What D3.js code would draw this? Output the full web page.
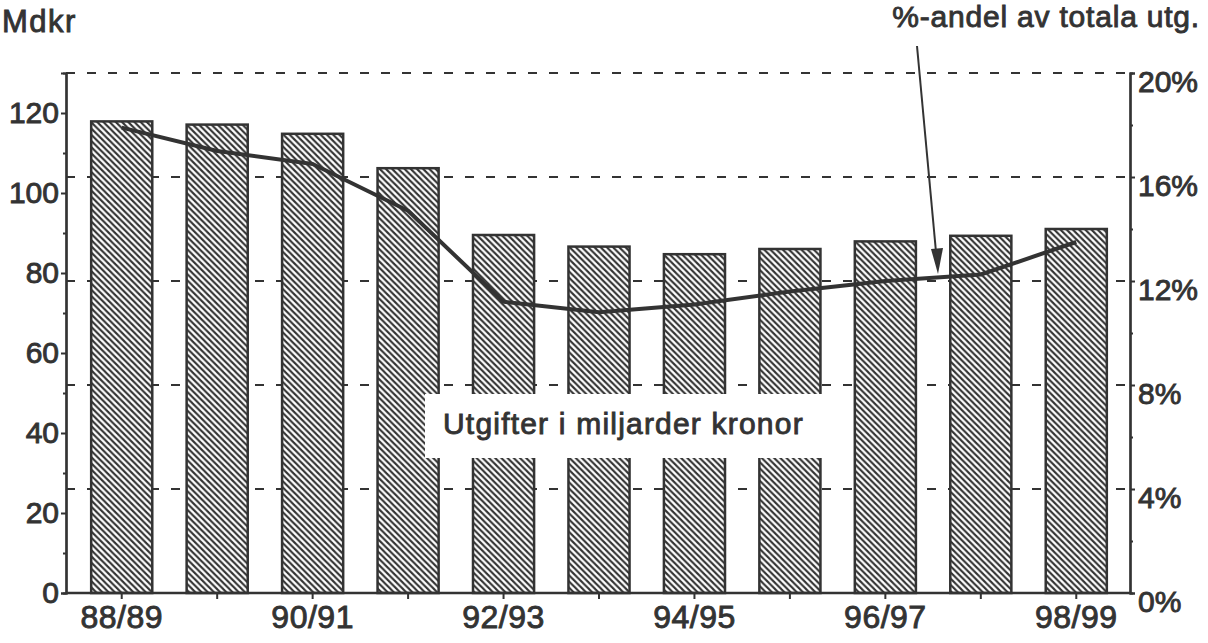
<!DOCTYPE html>
<html>
<head>
<meta charset="utf-8">
<script src="https://cdn.jsdelivr.net/npm/d3@7"></script>
<style>
  html, body { margin: 0; padding: 0; background: #fff; }
  svg { display: block; }
  text { font-family: "Liberation Sans", Arial, Helvetica, sans-serif; fill: #333; }
</style>
</head>
<body>
<svg id="chart" width="1208" height="643"></svg>
<script>
// ---- Data ----
const categories = ["88/89","89/90","90/91","91/92","92/93","93/94","94/95","95/96","96/97","97/98","98/99"];
const spending = [117.9, 117.1, 114.8, 106.2, 89.5, 86.6, 84.7, 86.0, 87.9, 89.3, 91.0]; // Mdkr
const sharePct = [17.9, 17.0, 16.5, 14.7, 11.2, 10.8, 11.1, 11.6, 12.0, 12.25, 13.5]; // % of total
const xLabelCats = ["88/89","90/91","92/93","94/95","96/97","98/99"];
const leftMajorTicks = [0, 20, 40, 60, 80, 100, 120];
const leftMinorTicks = [10, 30, 50, 70, 90, 110];
const rightMajorTicks = [0, 4, 8, 12, 16, 20];
const rightMinorTicks = [2, 6, 10, 14, 18];
const gridPct = [4, 8, 12, 16, 20];

const ink = "#333";
const svg = d3.select("#chart");

const axisLeftX = 66, axisRightX = 1130, yBottom = 593, yTop = 73;

const x = d3.scaleBand().domain(categories).range([74, 1124]).paddingInner(0.36).paddingOuter(0.18);
const yL = d3.scaleLinear().domain([0, 130]).range([yBottom, yTop]);
const yR = d3.scaleLinear().domain([0, 20]).range([yBottom, yTop]);

// hatch pattern
const defs = svg.append("defs");
const P = 6.2;
const pat = defs.append("pattern").attr("id", "hatch").attr("patternUnits", "userSpaceOnUse")
  .attr("width", P).attr("height", P);
pat.append("rect").attr("width", P).attr("height", P).attr("fill", "#fff");
pat.append("path").attr("d", `M0,0 L${P},${P} M-1,${P-1} L1,${P+1} M${P-1},-1 L${P+1},1`)
  .attr("stroke", ink).attr("stroke-width", 2.1);

// gridlines (dashed)
svg.append("g").selectAll("line").data(gridPct).join("line")
  .attr("x1", axisLeftX).attr("x2", axisRightX)
  .attr("y1", d => yR(d)).attr("y2", d => yR(d))
  .attr("stroke", ink).attr("stroke-width", 2).attr("stroke-dasharray", "9,12");

// bars
svg.append("g").selectAll("rect").data(categories).join("rect")
  .attr("x", d => x(d)).attr("width", x.bandwidth())
  .attr("y", (d, i) => yL(spending[i])).attr("height", (d, i) => yL(0) - yL(spending[i]))
  .attr("fill", "url(#hatch)").attr("stroke", ink).attr("stroke-width", 2.5);

// share line
const line = d3.line()
  .x((d, i) => x(categories[i]) + x.bandwidth() / 2)
  .y(d => yR(d))
  .curve(d3.curveLinear);
svg.append("path").datum(sharePct).attr("d", line)
  .attr("fill", "none").attr("stroke", ink).attr("stroke-width", 4).attr("stroke-linejoin", "round");

// legend box
svg.append("rect").attr("x", 425).attr("y", 394).attr("width", 410).attr("height", 64).attr("fill", "#fff");
svg.append("text").attr("x", 443).attr("y", 434).attr("font-size", 30)
  .attr("letter-spacing", 1.2).attr("stroke", ink).attr("stroke-width", 0.9)
  .text("Utgifter i miljarder kronor");

// left axis
const gL = svg.append("g").attr("transform", `translate(${axisLeftX},0)`);
gL.call(d3.axisLeft(yL).tickValues(leftMajorTicks).tickSize(5).tickPadding(2).tickFormat(d3.format("d")));
gL.append("g").call(d3.axisLeft(yL).tickValues(leftMinorTicks).tickSize(3).tickFormat(""));
gL.selectAll(".domain").attr("stroke", ink).attr("stroke-width", 2.2);
gL.selectAll(".tick line").attr("stroke", ink).attr("stroke-width", 2);
gL.selectAll(".tick text").attr("font-size", 30).attr("fill", ink).attr("stroke", ink).attr("stroke-width", 0.9)
  .style("font-family", "'Liberation Sans', Arial, sans-serif");

// right axis
const gR = svg.append("g").attr("transform", `translate(${axisRightX},0)`);
gR.call(d3.axisRight(yR).tickValues(rightMajorTicks).tickSize(5).tickPadding(3).tickFormat(d => d + "%"));
gR.append("g").call(d3.axisRight(yR).tickValues(rightMinorTicks).tickSize(3).tickFormat(""));
gR.selectAll(".domain").attr("stroke", ink).attr("stroke-width", 2.2);
gR.selectAll(".tick line").attr("stroke", ink).attr("stroke-width", 2);
gR.selectAll(".tick text").attr("font-size", 30).attr("fill", ink).attr("stroke", ink).attr("stroke-width", 0.9)
  .attr("dy", "0.6em")
  .style("font-family", "'Liberation Sans', Arial, sans-serif");

// bottom axis
const gB = svg.append("g").attr("transform", `translate(0,${yBottom})`);
gB.append("line").attr("x1", axisLeftX).attr("x2", axisRightX).attr("y1", 0).attr("y2", 0)
  .attr("stroke", ink).attr("stroke-width", 2.5);
gB.call(d3.axisBottom(x).tickSize(6).tickPadding(6).tickFormat(d => xLabelCats.includes(d) ? d : ""));
gB.selectAll(".domain").remove();
gB.selectAll(".tick line").attr("stroke", ink).attr("stroke-width", 2);
gB.selectAll(".tick text").attr("font-size", 32).attr("fill", ink).attr("stroke", ink).attr("stroke-width", 0.9)
  .attr("letter-spacing", 0.5)
  .style("font-family", "'Liberation Sans', Arial, sans-serif");

// titles
svg.append("text").attr("x", 2).attr("y", 32).attr("font-size", 31).attr("letter-spacing", 1.5)
  .attr("stroke", ink).attr("stroke-width", 0.9).text("Mdkr");
svg.append("text").attr("x", 1200).attr("y", 27).attr("text-anchor", "end").attr("font-size", 30)
  .attr("letter-spacing", 0.8).attr("stroke", ink).attr("stroke-width", 0.9).text("%-andel av totala utg.");

// arrow
const tipX = 938, tipY = 274;
svg.append("line").attr("x1", 917).attr("y1", 46).attr("x2", 936).attr("y2", 252)
  .attr("stroke", ink).attr("stroke-width", 2);
svg.append("path").attr("d", `M${tipX},${tipY} L${tipX - 7},${tipY - 25} L${tipX + 5},${tipY - 26} Z`)
  .attr("fill", ink);
</script>
</body>
</html>
